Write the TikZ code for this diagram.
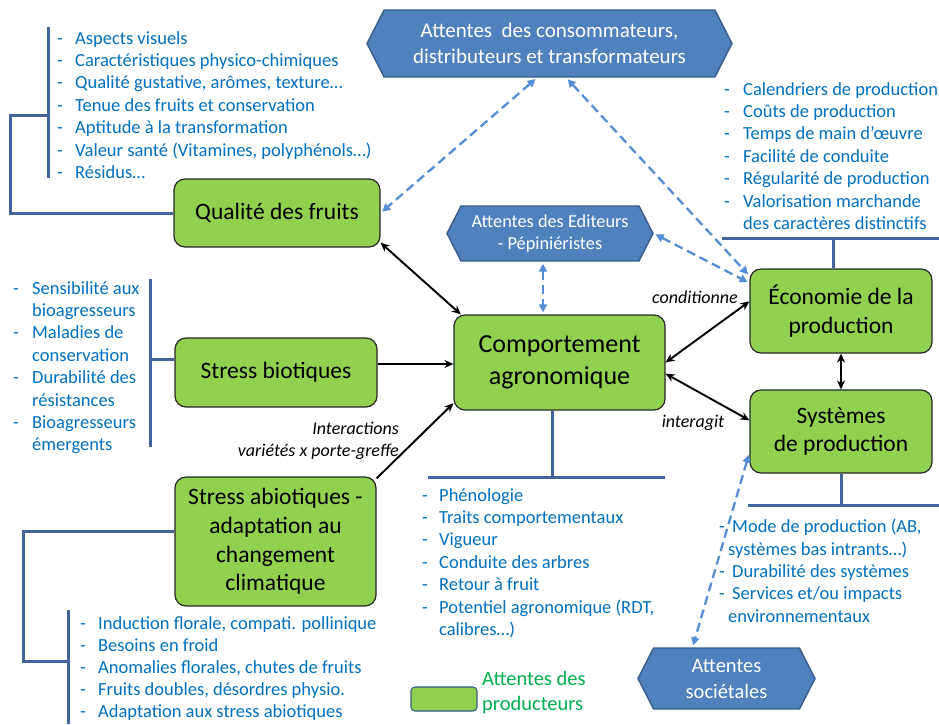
\documentclass[tikz,border=0pt]{standalone}
\usepackage{fontspec}
\setmainfont{Carlito}
\usetikzlibrary{arrows.meta,shapes.symbols}
\definecolor{prodgreen}{HTML}{92D050}
\definecolor{hexblue}{HTML}{4F81BD}
\definecolor{hexborder}{HTML}{385D8A}
\definecolor{listblue}{HTML}{0070C0}
\definecolor{barblue}{HTML}{41659B}
\definecolor{dashblue}{HTML}{558ED5}
\definecolor{legendgreen}{HTML}{00B050}
\newcommand{\tiret}[2][18pt]{\makebox[#1][l]{-}#2}
\tikzset{
	prod/.style={draw=black!85, fill=prodgreen, line width=1.2pt, rounded corners=11pt, align=center, inner sep=0pt, font=\fontsize{23.5}{28.6}\selectfont},
	attente/.style={signal, signal to=west and east, signal pointer angle=126, draw=hexborder, fill=hexblue, line width=1.4pt, text=white, align=center, inner sep=0pt},
	liste/.style={anchor=north west, align=left, inner sep=0pt, text=listblue, font=\fontsize{18.5}{22.4}\selectfont},
	bar/.style={draw=barblue, line width=3pt},
	lien/.style={line width=1.9pt, -{Stealth[length=9pt,width=8pt]}},
	lien2/.style={line width=1.9pt, {Stealth[length=9pt,width=8pt]}-{Stealth[length=9pt,width=8pt]}},
	attlien/.style={draw=dashblue, line width=2.3pt, dash pattern=on 9pt off 5pt, shorten <=2pt, shorten >=2pt, {Triangle[length=8pt,width=8pt]}-{Triangle[length=8pt,width=8pt]}},
	verbe/.style={font=\fontsize{18}{22}\selectfont\itshape, inner sep=0pt}
}

\begin{document}
\begin{tikzpicture}[x=1pt, y=-1pt]
	\useasboundingbox (0,0) rectangle (939,724);
	% producers' boxes
	\node[prod, minimum width=206, minimum height=68] (qual) at (277,213) {Qualité des fruits};
	\node[prod, minimum width=202, minimum height=69] (biot) at (276,372.5) {Stress biotiques};
	\node[prod, minimum width=201, minimum height=129] (abiot) at (275.5,541.5) {Stress abiotiques -\\adaptation au\\changement\\climatique};
	\node[prod, minimum width=211, minimum height=95, font=\fontsize{26}{32}\selectfont] (comp) at (559.5,362.5) {Comportement\\agronomique};
	\node[prod, minimum width=182, minimum height=84] (eco) at (841,311) {Économie de la\\production};
	\node[prod, minimum width=182, minimum height=83] (sys) at (841,431.5) {Systèmes\\de production};
	% other expectations
	\node[attente, minimum width=365, minimum height=67, font=\fontsize{21}{25.5}\selectfont] (cons) at (549.5,43.5) {Attentes\ \ des consommateurs,\\distributeurs et transformateurs};
	\node[attente, minimum width=206, minimum height=55, font=\fontsize{18.3}{22}\selectfont] (edit) at (550,233.5) {Attentes des Editeurs\\- Pépiniéristes};
	\node[attente, minimum width=177, minimum height=61, font=\fontsize{20.5}{26}\selectfont] (soc) at (726.5,678.5) {Attentes\\sociétales};
	% lists
	\node[liste] (lqual) at (57,31) {\tiret{Aspects visuels}\\\tiret{Caractéristiques physico-chimiques}\\\tiret{Qualité gustative, arômes, texture…}\\\tiret{Tenue des fruits et conservation}\\\tiret{Aptitude à la transformation}\\\tiret{Valeur santé (Vitamines, polyphénols…)}\\\tiret{Résidus…}};
	\node[liste] (lbiot) at (13,281) {\tiret[19pt]{Sensibilité aux}\\\hspace*{19pt}bioagresseurs\\\tiret[19pt]{Maladies de}\\\hspace*{19pt}conservation\\\tiret[19pt]{Durabilité des}\\\hspace*{19pt}résistances\\\tiret[19pt]{Bioagresseurs}\\\hspace*{19pt}émergents};
	\node[liste, font=\fontsize{18.5}{22.2}\selectfont] (labiot) at (80,616) {\tiret{Induction florale, compati. pollinique}\\\tiret{Besoins en froid}\\\tiret{Anomalies florales, chutes de fruits}\\\tiret{Fruits doubles, désordres physio.}\\\tiret{Adaptation aux stress abiotiques}};
	\node[liste] (lcomp) at (422,488) {\tiret[17pt]{Phénologie}\\\tiret[17pt]{Traits comportementaux}\\\tiret[17pt]{Vigueur}\\\tiret[17pt]{Conduite des arbres}\\\tiret[17pt]{Retour à fruit}\\\tiret[17pt]{Potentiel agronomique (RDT,}\\\hspace*{17pt}calibres…)};
	\node[liste] (leco) at (724,82) {\tiret[19pt]{Calendriers de production}\\\tiret[19pt]{Coûts de production}\\\tiret[19pt]{Temps de main d’œuvre}\\\tiret[19pt]{Facilité de conduite}\\\tiret[19pt]{Régularité de production}\\\tiret[19pt]{Valorisation marchande}\\\hspace*{19pt}des caractères distinctifs};
	\node[liste] (lsys) at (719,519) {\tiret[13pt]{Mode de production (AB,}\\\hspace*{9pt}systèmes bas intrants…)\\\tiret[13pt]{Durabilité des systèmes}\\\tiret[13pt]{Services et/ou impacts}\\\hspace*{9pt}environnementaux};
	% brackets
	\draw[bar] (48,27) -- (48,178);
	\draw[bar] (qual.west) -| (10,115) -- (48,115);
	\draw[bar] (150,279) -- (150,447);
	\draw[bar] (150,359) -- (biot.west |- 0,359);
	\draw[bar] (abiot.west |- 0,531) -- (23,531) -- (23,661) -- (68,661);
	\draw[bar] (68,610) -- (68,724);
	\draw[bar] (comp.south -| 552,0) -- (552,477);
	\draw[bar] (428,477) -- (665,477);
	\draw[bar] (eco.north -| 833,0) -- (833,238);
	\draw[bar] (722,238) -- (939,238);
	\draw[bar] (sys.south) -- (841,505);
	\draw[bar] (748,505) -- (939,505);
	% links
	\draw[lien2] (qual.-16) -- (comp.154);
	\draw[lien] (biot.east |- 0,364) -- (comp.west |- 0,364);
	\draw[lien] (abiot.32) -- (comp.201);
	\draw[lien2] (comp.east) -- (eco.174);
	\draw[lien2] (comp.-6) -- (sys.173);
	\draw[lien2] (eco.south) -- (sys.north);
	\node[verbe, anchor=east] (cond) at (738,297) {conditionne};
	\node[verbe] (inter) at (693,423) {interagit};
	\node[verbe, anchor=east, align=right] (vxpg) at (399,441) {Interactions\\variétés x porte-greffe};
	% expectations links
	\draw[attlien] (cons.250) -- (qual.east);
	\draw[attlien] (cons.296) -- (eco.159);
	\draw[attlien] (edit.east) -- (eco.163);
	\draw[attlien] ([xshift=-7pt]edit.south) -- ([xshift=-7pt]edit.south |- comp.north);
	\draw[attlien] (sys.193) -- ([xshift=-34pt]soc.north);
	% legend
	\node[draw=hexborder, fill=prodgreen, line width=1.1pt, rounded corners=4pt, minimum width=66, minimum height=24] (leg) at (444,699) {};
	\node[anchor=west, align=left, inner sep=0pt, text=legendgreen, font=\fontsize{20.5}{25}\selectfont] (legtxt) at (482,693) {Attentes des\\producteurs};
\end{tikzpicture}
\end{document}
